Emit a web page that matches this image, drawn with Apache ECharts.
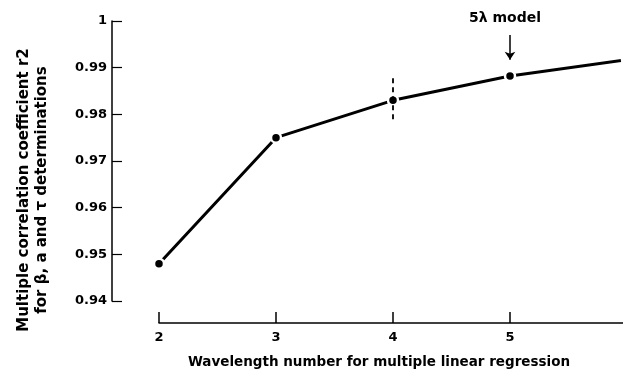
<!DOCTYPE html>
<html><head><meta charset="utf-8">
<script src="https://cdn.jsdelivr.net/npm/echarts@6/dist/echarts.min.js"></script>
<style>html,body{margin:0;padding:0;background:#fff;overflow:hidden}#c{width:623px;height:369px}</style>
</head><body><div id="c"></div>
<script>
var wavelengthNumbers = [2, 3, 4, 5, 6];
var r2Values = [0.948, 0.975, 0.983, 0.9882, 0.9917];
var yTicks = [0.94, 0.95, 0.96, 0.97, 0.98, 0.99, 1];
var xTitle = 'Wavelength number for multiple linear regression';
var yTitle = 'Multiple correlation coefficient r2\nfor \u03b2, a and \u03c4 determinations';
var modelLabel = '5\u03bb model';
var modelArrow = [[5, 0.9970], [5, 0.9917]];
var dashedMark = [[4, 0.98775], [4, 0.9788]];

var FONT = 'DejaVu Sans';
var chart = echarts.init(document.getElementById('c'));
chart.setOption({
  animation: false,
  backgroundColor: '#fff',
  grid: {left: 159, top: 21, width: 468, height: 280, outerBoundsMode: 'none', containLabel: false},
  xAxis: {
    type: 'value', min: 2, max: 6, interval: 1, offset: 22,
    name: xTitle, nameLocation: 'middle', nameGap: 32,
    nameTextStyle: {fontFamily: FONT, fontWeight: 'bold', fontSize: 13.5, color: '#000', padding: [0, 28, 0, 0]},
    axisLine: {show: true, onZero: false, lineStyle: {color: '#000', width: 1.5}},
    axisTick: {show: true, inside: true, length: 11, lineStyle: {color: '#000', width: 1.5}},
    axisLabel: {fontFamily: FONT, fontWeight: 'bold', fontSize: 13, color: '#000', margin: 8},
    splitLine: {show: false}
  },
  yAxis: {
    type: 'value', min: yTicks[0], max: yTicks[yTicks.length - 1], interval: 0.01, offset: 47,
    name: yTitle, nameLocation: 'middle', nameRotate: 90, nameGap: 61,
    nameTextStyle: {fontFamily: FONT, fontWeight: 'bold', fontSize: 15, color: '#000', lineHeight: 18, padding: [0, 58, 0, 0]},
    axisLine: {show: true, onZero: false, lineStyle: {color: '#000', width: 1.5}},
    axisTick: {show: true, inside: true, length: 10, lineStyle: {color: '#000', width: 1.2}},
    axisLabel: {fontFamily: FONT, fontWeight: 'bold', fontSize: 13, color: '#000', margin: 5,
      formatter: function (v) { return Math.abs(v - 1) < 1e-9 ? '1' : v.toFixed(2); }},
    splitLine: {show: false}
  },
  series: [{
    type: 'line',
    data: wavelengthNumbers.map(function (x, i) { return [x, r2Values[i]]; }),
    symbol: 'circle', symbolSize: 10,
    itemStyle: {color: '#000', borderColor: '#fff', borderWidth: 2.5},
    lineStyle: {color: '#000', width: 3},
    clip: false,
    markLine: {
      silent: true, animation: false,
      data: [
        [{coord: modelArrow[0], symbol: 'none',
          label: {show: true, position: 'start', formatter: modelLabel, distance: 10,
            fontFamily: FONT, fontWeight: 'bold', fontSize: 14, color: '#000', padding: [0, 10, 0, 0]}},
         {coord: modelArrow[1], symbol: 'arrow', symbolSize: 8}],
        [{coord: dashedMark[0], symbol: 'none', label: {show: false},
          lineStyle: {type: [5, 4], width: 1.8, color: '#000'}},
         {coord: dashedMark[1], symbol: 'none'}]
      ],
      lineStyle: {color: '#000', width: 1.5, type: 'solid'},
      label: {show: false}
    }
  }]
});
</script></body></html>
